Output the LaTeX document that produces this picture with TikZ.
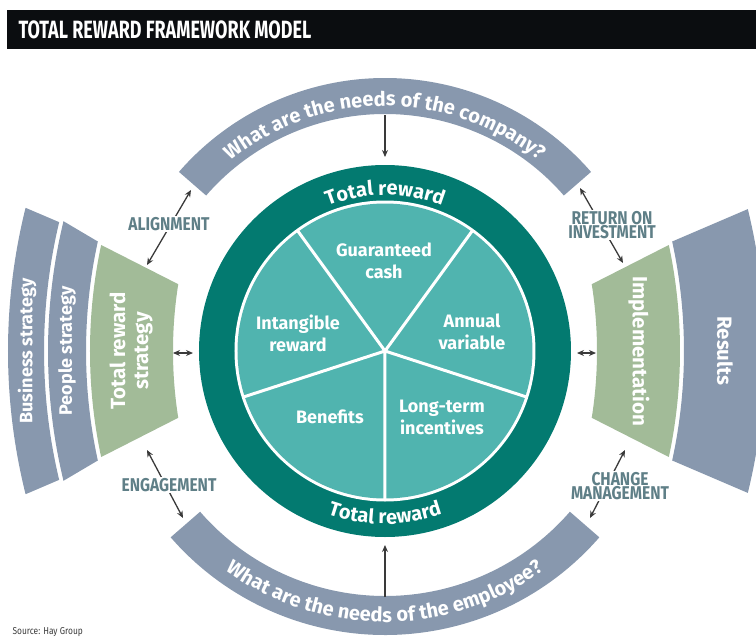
\documentclass[tikz,border=0pt]{standalone}
\usepackage{fontspec}
\setmainfont{Fira Sans}
\newfontfamily\condfont[FakeStretch=0.84]{Fira Sans}
\newfontfamily\titlefont[FakeStretch=0.72]{Fira Sans}
\usetikzlibrary{arrows.meta,decorations.text}
\definecolor{TitleBlack}{HTML}{0B0D10}
\definecolor{RingTeal}{HTML}{037A70}
\definecolor{PieTeal}{HTML}{50B4AF}
\definecolor{BandGrey}{HTML}{8898AE}
\definecolor{BandGreen}{HTML}{A2BB98}
\definecolor{TagTeal}{HTML}{5F7F87}
\definecolor{ArrowGrey}{HTML}{3A3A3A}
\definecolor{SourceGrey}{HTML}{3C3C3C}

\begin{document}
\begin{tikzpicture}[x=1pt,y=1pt,
  greyband/.style={fill=BandGrey},
  greenband/.style={fill=BandGreen},
  slice/.style={text=white,align=center,font=\fontsize{18}{22}\selectfont\bfseries},
  sidetext/.style={text=white,align=center,font=\fontsize{18}{22}\selectfont\bfseries},
  bigside/.style={sidetext,font=\fontsize{20.5}{23}\selectfont\bfseries},
  tag/.style={text=TagTeal,align=center,fill=white,inner sep=1.5pt,font=\condfont\fontsize{18.5}{14}\selectfont\bfseries},
  arrow/.style={{Stealth[length=7pt,width=6pt]}-{Stealth[length=7pt,width=6pt]},line width=1.3pt,draw=ArrowGrey},
  onearrow/.style={-{Stealth[length=7pt,width=6pt]},line width=1.3pt,draw=ArrowGrey}
]
\useasboundingbox (-385,-290) rectangle (371,351);
\coordinate (O) at (0,0);
\coordinate (CL) at (215,0);
\coordinate (CR) at (-215,0);

% title bar
\fill[TitleBlack] (-378,302) rectangle (371,341);
\node[anchor=west,text=white,font=\titlefont\fontsize{25}{25}\selectfont\bfseries] (title) at (-370,321.5) {TOTAL REWARD FRAMEWORK MODEL};

% needs of company / employee
\fill[greyband] (41:237) arc[start angle=41,end angle=139,radius=237] -- (139:273) arc[start angle=139,end angle=41,radius=273] -- cycle;
\fill[greyband] (221:245) arc[start angle=221,end angle=319,radius=245] -- (319:284) arc[start angle=319,end angle=221,radius=284] -- cycle;
\path[decorate,decoration={text along path,text align=center,text color=white,
  text={|\fontsize{20}{20}\selectfont\bfseries|What are the needs of the company?}}]
  (140:245) arc[start angle=140,end angle=40,radius=245];
\path[decorate,decoration={text along path,text align=center,text color=white,
  text={|\fontsize{20}{20}\selectfont\bfseries|What are the needs of the employee?}}]
  (220:271) arc[start angle=220,end angle=320,radius=271];

% left side: strategy bands
\fill[greyband] ([shift={(166:592)}]CL) arc[start angle=166,end angle=194,radius=592]
  -- ([shift={(193.4:556)}]CL) arc[start angle=193.4,end angle=166.6,radius=556] -- cycle;
\fill[greyband] ([shift={(166.4:552)}]CL) arc[start angle=166.4,end angle=193.6,radius=552]
  -- ([shift={(192.3:514)}]CL) arc[start angle=192.3,end angle=167.7,radius=514] -- cycle;
\fill[greenband] ([shift={(168:510)}]CL) arc[start angle=168,end angle=192,radius=510]
  -- ([shift={(189:427)}]CL) arc[start angle=189,end angle=171,radius=427] -- cycle;
\node[sidetext,rotate=90] (business) at ([shift={(180:573)}]CL) {Business strategy};
\node[sidetext,rotate=90] (people) at ([shift={(180:533)}]CL) {People strategy};
\node[bigside,rotate=90] (strategy) at ([shift={(180:469)}]CL) {Total reward\\strategy};

% right side: implementation and results
\fill[greenband] ([shift={(-12:510)}]CR) arc[start angle=-12,end angle=12,radius=510]
  -- ([shift={(9:427)}]CR) arc[start angle=9,end angle=-9,radius=427] -- cycle;
\fill[greyband] ([shift={(-13.8:595)}]CR) arc[start angle=-13.8,end angle=13.8,radius=595]
  -- ([shift={(12.3:514)}]CR) arc[start angle=12.3,end angle=-12.3,radius=514] -- cycle;
\node[bigside,rotate=-90] (impl) at ([shift={(0:469)}]CR) {Implementation};
\node[bigside,rotate=-90] (results) at ([shift={(0:555)}]CR) {Results};

% total reward wheel
\fill[RingTeal] (O) circle[radius=186];
\fill[white] (O) circle[radius=150.5];
\fill[PieTeal] (O) circle[radius=147.5];
\draw[white,line width=3pt] (O) -- (54:149) (O) -- (126:149) (O) -- (198:149)
  (O) -- (270:149) (O) -- (342:149);
\path[decorate,decoration={text along path,text align=center,text color=white,
  text={|\fontsize{20}{20}\selectfont\bfseries|Total reward}}]
  (122:156) arc[start angle=122,end angle=58,radius=156];
\path[decorate,decoration={text along path,text align=center,text color=white,
  text={|\fontsize{20}{20}\selectfont\bfseries|Total reward}}]
  (238:173) arc[start angle=238,end angle=302,radius=173];

\node[slice] (cash) at (-1,90) {Guaranteed\\cash};
\node[slice] (intangible) at (-87,18) {Intangible\\reward};
\node[slice] (annual) at (87,19) {Annual\\variable};
\node[slice] (benefits) at (-55,-66) {Benefits};
\node[slice] (longterm) at (57,-66) {Long-term\\incentives};

% connectors
\coordinate (compIn) at (0,236);
\coordinate (ringTop) at (0,194);
\coordinate (empIn) at (0,-246);
\coordinate (ringBot) at (0,-194);
\draw[onearrow] (compIn) -- (ringTop);
\draw[onearrow] (empIn) -- (ringBot);

\coordinate (stratOut) at (-212,-2);
\coordinate (ringL) at (-192,-2);
\coordinate (ringR) at (192,-2);
\coordinate (implIn) at (211,-2);
\draw[arrow] (stratOut) -- (ringL);
\draw[arrow] (ringR) -- (implIn);

\coordinate (alA) at (-194,161);
\coordinate (alB) at (-238,86);
\coordinate (enA) at (-238,-99);
\coordinate (enB) at (-202,-167);
\coordinate (roA) at (195,163);
\coordinate (roB) at (238,88);
\coordinate (chA) at (240,-99);
\coordinate (chB) at (205,-167);
\draw[arrow] (alA) -- (alB);
\draw[arrow] (enA) -- (enB);
\draw[arrow] (roA) -- (roB);
\draw[arrow] (chA) -- (chB);
\node[tag] (alignment) at (-216,127) {ALIGNMENT};
\node[tag] (engagement) at (-216,-134) {ENGAGEMENT};
\node[tag] (roi) at (227,126) {RETURN ON\\INVESTMENT};
\node[tag] (change) at (235,-135) {CHANGE\\MANAGEMENT};

\node[anchor=west,text=SourceGrey,font=\condfont\fontsize{10}{10}\selectfont] (source) at (-376,-281) {Source: Hay Group};
\end{tikzpicture}
\end{document}
